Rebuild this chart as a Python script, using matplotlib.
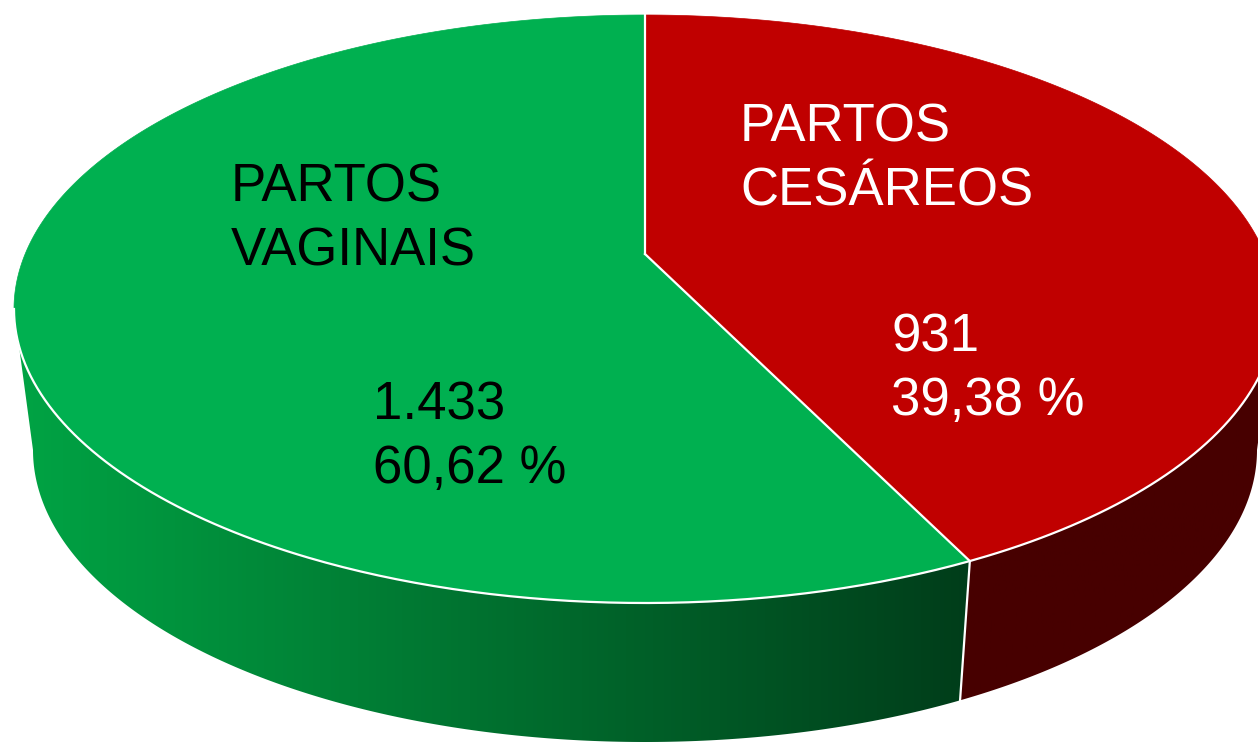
import numpy as np
import matplotlib.pyplot as plt
from matplotlib.patches import Polygon
from matplotlib.colors import LinearSegmentedColormap

plt.rcParams['font.family'] = ['Liberation Sans', 'DejaVu Sans']

# dados
categories = ["PARTOS\nVAGINAIS", "PARTOS\nCESÁREOS"]
values = [1433, 931]
top_colors = ["#00b050", "#c00000"]
side_colors = [("#00a444", "#003d1a"), ("#470000", "#470000")]
text_colors = ["black", "white"]

# posicao dos rotulos (pixels)
name_pos = [(231, 202), (740, 142)]
value_pos = [(373, 420), (891, 352)]
line_step = 63

# geometria da pizza 3D (pixels)
cx, cy, a, b = 645, 309, 631, 294      # elipse de cima
bx, by, ba, bb = 645, 450, 612, 292    # elipse de baixo
apex = (645, 254)                      # centro da pizza em perspectiva
warp = 11.7                            # distorcao do angulo pela perspectiva


def t_of(phi):
    return phi + warp * np.sin(np.radians(phi - 90))


def top_pts(t):
    r = np.radians(t)
    return np.column_stack([cx + a * np.cos(r), cy - b * np.sin(r)])


def bot_pts(t):
    r = np.radians(t)
    return np.column_stack([bx + ba * np.cos(r), by - bb * np.sin(r)])


total = sum(values)
fracs = [v / total for v in values]
bounds = 90 + 360 * np.concatenate([[0], np.cumsum(fracs)])

fig = plt.figure(figsize=(12.58, 7.44), dpi=100)
ax = fig.add_axes([0, 0, 1, 1])

# laterais
for i in range(len(values)):
    t0, t1 = t_of(bounds[i]), t_of(bounds[i + 1])
    s0, s1 = max(t0, 180), min(t1, 360)
    if s1 <= s0:
        continue
    ts = np.linspace(s0, s1, 200)
    poly = np.vstack([top_pts(ts), bot_pts(ts[::-1])])
    patch = Polygon(poly, closed=True, facecolor='none', edgecolor='none')
    ax.add_patch(patch)
    cmap = LinearSegmentedColormap.from_list('side%d' % i, side_colors[i])
    x0, x1 = poly[:, 0].min(), poly[:, 0].max()
    y0, y1 = poly[:, 1].min(), poly[:, 1].max()
    im = ax.imshow(np.linspace(0, 1, 256).reshape(1, -1), cmap=cmap,
                   extent=(x0, x1, y1, y0), aspect='auto', zorder=1)
    im.set_clip_path(patch)

# topo
for i in range(len(values)):
    ts = np.linspace(t_of(bounds[i]), t_of(bounds[i + 1]), 300)
    poly = np.vstack([[apex], top_pts(ts)])
    ax.add_patch(Polygon(poly, closed=True, facecolor=top_colors[i],
                         edgecolor=top_colors[i], lw=0.5, zorder=2))

# linhas brancas
ts = np.linspace(180, 360, 300)
edge = top_pts(ts)
ax.plot(edge[:, 0], edge[:, 1], color='white', lw=1.6, zorder=3)
for phi in bounds[:-1]:
    t = t_of(phi)
    p = top_pts(np.array([t]))[0]
    ax.plot([apex[0], p[0]], [apex[1], p[1]], color='white', lw=1.6, zorder=3)
    if 180 < t < 360:
        q = bot_pts(np.array([t]))[0]
        ax.plot([p[0], q[0]], [p[1], q[1]], color='white', lw=1.6, zorder=3)

# rotulos
for i in range(len(values)):
    pct = f"{fracs[i] * 100:.2f}".replace(".", ",") + " %"
    val = f"{values[i]:,}".replace(",", ".")
    for k, line in enumerate(categories[i].split("\n")):
        ax.text(name_pos[i][0], name_pos[i][1] + k * line_step, line,
                fontsize=38, color=text_colors[i], va='baseline', zorder=4)
    for k, line in enumerate([val, pct]):
        ax.text(value_pos[i][0], value_pos[i][1] + k * line_step, line,
                fontsize=38, color=text_colors[i], va='baseline', zorder=4)

ax.set_xlim(0, 1258)
ax.set_ylim(744, 0)
ax.axis('off')
fig.savefig('out.png', dpi=100)
